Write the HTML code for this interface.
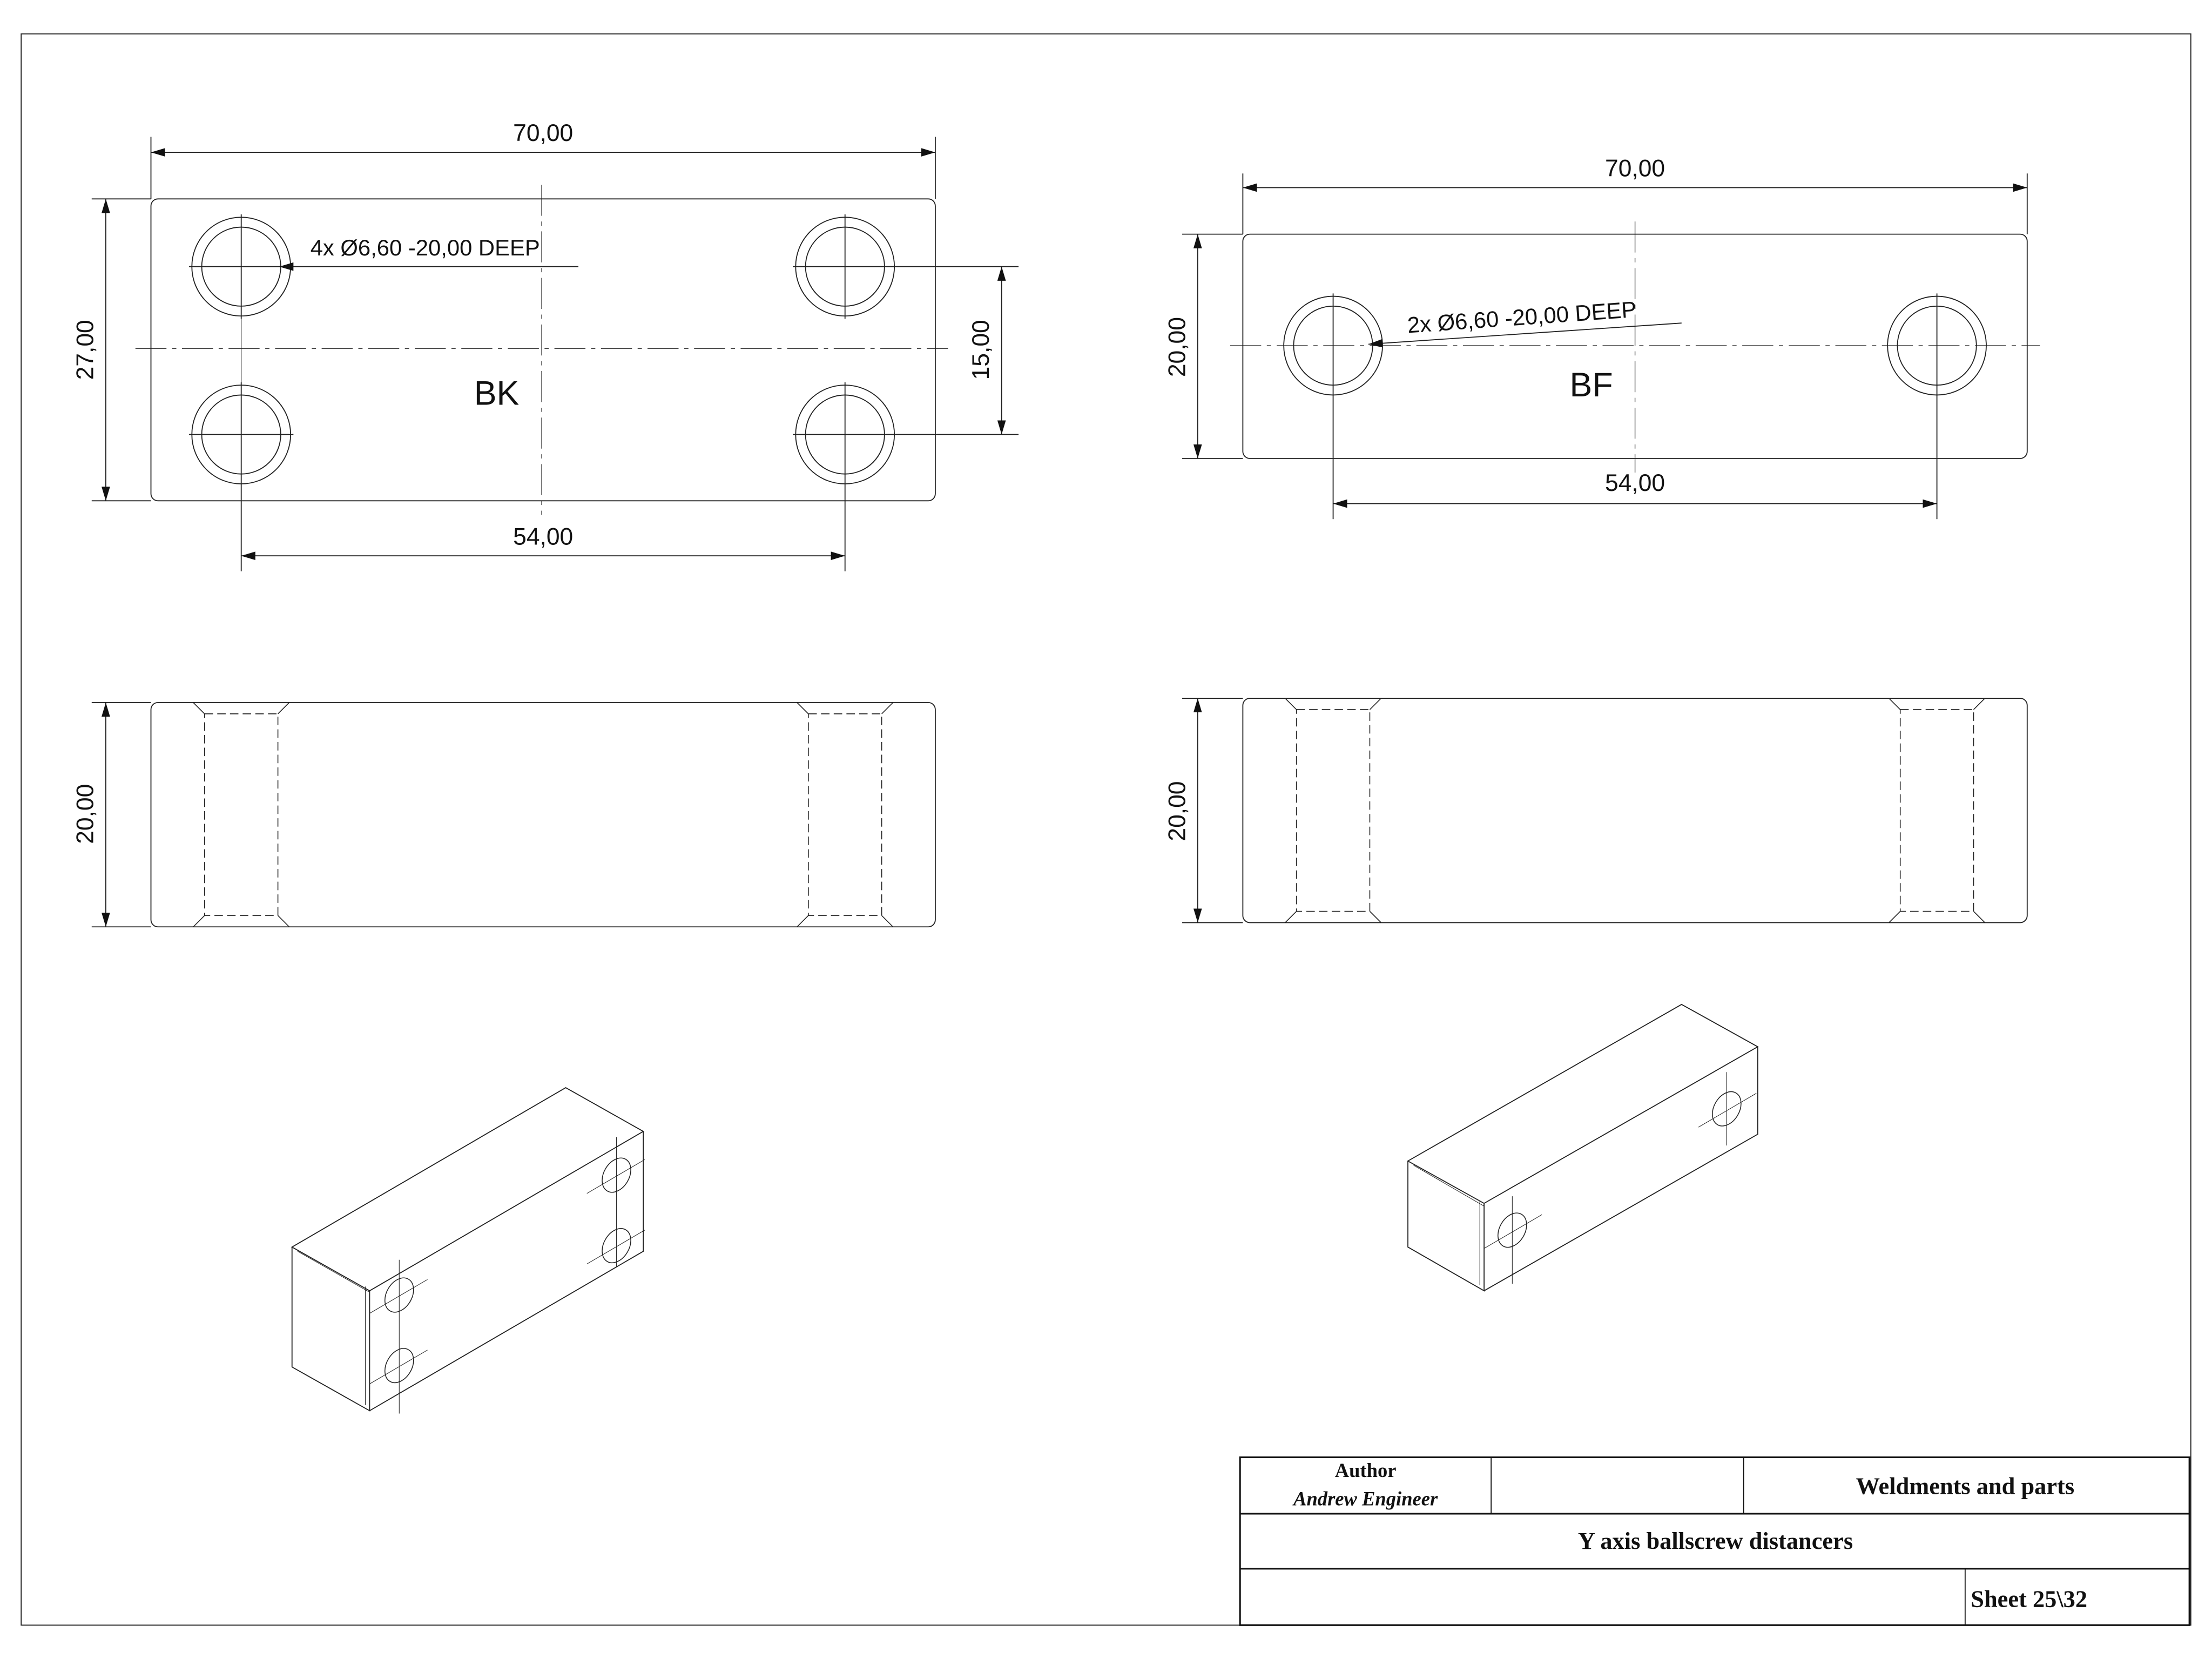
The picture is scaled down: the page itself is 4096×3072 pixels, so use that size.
<!DOCTYPE html>
<html><head><meta charset="utf-8"><style>
html,body{margin:0;padding:0;background:#fff;}
svg{display:block;}
text{font-family:"Liberation Sans","DejaVu Sans",sans-serif;fill:#111;}
.t{font-family:"Liberation Serif",serif;font-weight:bold;}
</style></head><body>
<svg width="4096" height="3072" viewBox="0 0 1568 1176" xmlns="http://www.w3.org/2000/svg">
<defs>
<marker id="a" viewBox="0 0 10 6" refX="10" refY="3" markerWidth="10" markerHeight="6" orient="auto-start-reverse" markerUnits="userSpaceOnUse"><path d="M0,0L10,3L0,6z" fill="#111"/></marker>
</defs>
<g fill="none" stroke="#222" stroke-width="0.7">
<!-- frame -->
<rect x="15" y="24" width="1538" height="1128"/>

<!-- BK top view -->
<rect x="107" y="141" width="556" height="214" rx="5"/>
<g id="hole">
<circle cx="171" cy="189" r="35"/><circle cx="171" cy="189" r="28"/>
<line x1="134" y1="189" x2="208" y2="189"/><line x1="171" y1="152" x2="171" y2="226"/>
</g>
<circle cx="599" cy="189" r="35"/><circle cx="599" cy="189" r="28"/>
<line x1="562" y1="189" x2="722" y2="189"/><line x1="599" y1="152" x2="599" y2="226"/>
<circle cx="171" cy="308" r="35"/><circle cx="171" cy="308" r="28"/>
<line x1="134" y1="308" x2="208" y2="308"/><line x1="171" y1="271" x2="171" y2="405"/>
<circle cx="599" cy="308" r="35"/><circle cx="599" cy="308" r="28"/>
<line x1="562" y1="308" x2="722" y2="308"/><line x1="599" y1="271" x2="599" y2="405"/>
<line x1="171" y1="226" x2="171" y2="271" stroke-width="0.4"/>
<line x1="96" y1="247" x2="672" y2="247" stroke-dasharray="22,4,3,4" stroke-width="0.5"/>
<line x1="384" y1="131" x2="384" y2="365" stroke-dasharray="22,4,3,4" stroke-width="0.5"/>
<!-- dims -->
<line x1="107" y1="97" x2="107" y2="141"/><line x1="663" y1="97" x2="663" y2="141"/>
<line x1="107" y1="108" x2="663" y2="108" marker-start="url(#a)" marker-end="url(#a)"/>
<line x1="65" y1="141" x2="107" y2="141"/><line x1="65" y1="355" x2="107" y2="355"/>
<line x1="75" y1="141" x2="75" y2="355" marker-start="url(#a)" marker-end="url(#a)"/>
<line x1="710" y1="189" x2="710" y2="308" marker-start="url(#a)" marker-end="url(#a)"/>
<line x1="171" y1="394" x2="599" y2="394" marker-start="url(#a)" marker-end="url(#a)"/>
<line x1="410" y1="189" x2="198" y2="189" marker-end="url(#a)"/>

<!-- BF top view -->
<rect x="881" y="166" width="556" height="159" rx="5"/>
<circle cx="945" cy="245" r="35"/><circle cx="945" cy="245" r="28"/>
<line x1="945" y1="208" x2="945" y2="368"/>
<circle cx="1373" cy="245" r="35"/><circle cx="1373" cy="245" r="28"/>
<line x1="1373" y1="208" x2="1373" y2="368"/>
<line x1="872" y1="245" x2="1446" y2="245" stroke-dasharray="22,4,3,4" stroke-width="0.5"/>
<line x1="1159" y1="157" x2="1159" y2="335" stroke-dasharray="22,4,3,4" stroke-width="0.5"/>
<line x1="881" y1="123" x2="881" y2="166"/><line x1="1437" y1="123" x2="1437" y2="166"/>
<line x1="881" y1="133" x2="1437" y2="133" marker-start="url(#a)" marker-end="url(#a)"/>
<line x1="838" y1="166" x2="881" y2="166"/><line x1="838" y1="325" x2="881" y2="325"/>
<line x1="849" y1="166" x2="849" y2="325" marker-start="url(#a)" marker-end="url(#a)"/>
<line x1="945" y1="357" x2="1373" y2="357" marker-start="url(#a)" marker-end="url(#a)"/>
<line x1="1192" y1="229" x2="970" y2="244" marker-end="url(#a)"/>

<!-- BK front view -->
<rect x="107" y="498" width="556" height="159" rx="5"/>
<g stroke-dasharray="6,3" stroke-width="0.6">
<rect x="145" y="506" width="52" height="143"/>
<rect x="573" y="506" width="52" height="143"/>
<rect x="919" y="503" width="52" height="143"/>
<rect x="1347" y="503" width="52" height="143"/>
</g>
<g stroke-width="0.6">
<path d="M137,498L145,506M205,498L197,506M137,657L145,649M205,657L197,649"/>
<path d="M565,498L573,506M633,498L625,506M565,657L573,649M633,657L625,649"/>
<path d="M911,495L919,503M979,495L971,503M911,654L919,646M979,654L971,646"/>
<path d="M1339,495L1347,503M1407,495L1399,503M1339,654L1347,646M1407,654L1399,646"/>
</g>
<line x1="65" y1="498" x2="107" y2="498"/><line x1="65" y1="657" x2="107" y2="657"/>
<line x1="75" y1="498" x2="75" y2="657" marker-start="url(#a)" marker-end="url(#a)"/>
<!-- BF front -->
<rect x="881" y="495" width="556" height="159" rx="5"/>
<line x1="838" y1="495" x2="881" y2="495"/><line x1="838" y1="654" x2="881" y2="654"/>
<line x1="849" y1="495" x2="849" y2="654" marker-start="url(#a)" marker-end="url(#a)"/>

<!-- BK iso -->
<path d="M207,884L401,771L456,802L262,915Z"/>
<path d="M207,884L207,969L262,1000L262,915"/>
<path d="M262,1000L456,887L456,802"/>
<path d="M211,887L262,916M259,912L259,996" stroke-width="0.4"/>
<g stroke-width="0.6">
<ellipse cx="283" cy="918" rx="9" ry="13" transform="rotate(30 283 918)"/>
<ellipse cx="283" cy="968" rx="9" ry="13" transform="rotate(30 283 968)"/>
<ellipse cx="437" cy="833" rx="9" ry="13" transform="rotate(30 437 833)"/>
<ellipse cx="437" cy="883" rx="9" ry="13" transform="rotate(30 437 883)"/>
<path d="M283,893L283,1002M262,931L303,907M262,981L303,957M437,806L437,898M416,846L457,822M416,896L457,872" stroke-width="0.4"/>
</g>
<!-- BF iso -->
<path d="M998,823L1192,712L1246,742L1052,853Z"/>
<path d="M998,823L998,884L1052,915L1052,853"/>
<path d="M1052,915L1246,804L1246,742"/>
<path d="M1002,826L1052,855M1049,851L1049,911" stroke-width="0.4"/>
<g stroke-width="0.6">
<ellipse cx="1072" cy="872" rx="9" ry="13" transform="rotate(30 1072 872)"/>
<ellipse cx="1224" cy="786" rx="9" ry="13" transform="rotate(30 1224 786)"/>
<path d="M1072,848L1072,910M1052,885L1093,861M1224,760L1224,812M1204,799L1245,775" stroke-width="0.4"/>
</g>

<!-- title block -->
<g stroke="#111" stroke-width="1.2">
<rect x="879" y="1033" width="673" height="119"/>
<line x1="879" y1="1073" x2="1552" y2="1073"/>
<line x1="879" y1="1112" x2="1552" y2="1112"/>
<line x1="1057" y1="1033" x2="1057" y2="1073" stroke-width="0.7"/>
<line x1="1236" y1="1033" x2="1236" y2="1073" stroke-width="0.7"/>
<line x1="1393" y1="1112" x2="1393" y2="1152" stroke-width="0.7"/>
</g>
</g>

<!-- texts -->
<g font-size="17" text-anchor="middle">
<text x="385" y="100">70,00</text>
<text x="385" y="386">54,00</text>
<text x="1159" y="125">70,00</text>
<text x="1159" y="348">54,00</text>
<text transform="translate(66,248) rotate(-90)">27,00</text>
<text transform="translate(701,248) rotate(-90)">15,00</text>
<text transform="translate(66,577) rotate(-90)">20,00</text>
<text transform="translate(840,246) rotate(-90)">20,00</text>
<text transform="translate(840,575) rotate(-90)">20,00</text>
</g>
<text x="220" y="181" font-size="16">4x Ø6,60 -20,00 DEEP</text>
<text x="998" y="236" font-size="16" transform="rotate(-4 998 236)">2x Ø6,60 -20,00 DEEP</text>
<text x="352" y="287" font-size="24" text-anchor="middle">BK</text>
<text x="1128" y="281" font-size="24" text-anchor="middle">BF</text>

<g class="t" text-anchor="middle">
<text class="t" x="968" y="1047" font-size="14">Author</text>
<text class="t" x="968" y="1067" font-size="14" font-style="italic">Andrew Engineer</text>
<text class="t" x="1393" y="1059" font-size="17">Weldments and parts</text>
<text class="t" x="1216" y="1098" font-size="17">Y axis ballscrew distancers</text>
</g>
<text class="t" x="1397" y="1139" font-size="17">Sheet  25\32</text>
</svg>
</body></html>
